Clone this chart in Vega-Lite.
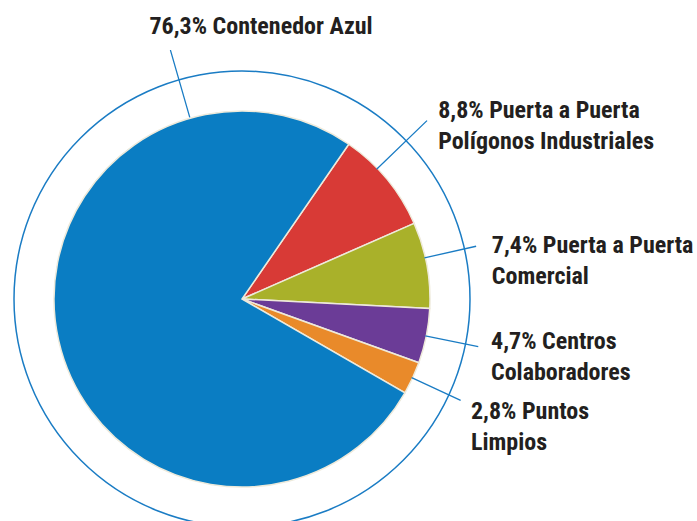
{
  "$schema": "https://vega.github.io/schema/vega-lite/v6.json",
  "width": 484,
  "height": 598,
  "padding": 0,
  "autosize": {"type": "pad"},
  "background": "white",
  "config": {
    "view": {"stroke": null},
    "text": {"font": "Roboto Condensed, DejaVu Sans Condensed, Roboto", "fontWeight": "bold", "fontSize": 24, "lineHeight": 31, "color": "#231f20"}
  },
  "data": {
    "values": [
      {"orden": 1, "categoria": "Puerta a Puerta Polígonos Industriales", "porcentaje": 8.8, "etiqueta": ["8,8% Puerta a Puerta", "Polígonos Industriales"]},
      {"orden": 2, "categoria": "Puerta a Puerta Comercial", "porcentaje": 7.4, "etiqueta": ["7,4% Puerta a Puerta", "Comercial"]},
      {"orden": 3, "categoria": "Centros Colaboradores", "porcentaje": 4.7, "etiqueta": ["4,7% Centros", "Colaboradores"]},
      {"orden": 4, "categoria": "Puntos Limpios", "porcentaje": 2.8, "etiqueta": ["2,8% Puntos", "Limpios"]},
      {"orden": 5, "categoria": "Contenedor Azul", "porcentaje": 76.3, "etiqueta": "76,3% Contenedor Azul"}
    ]
  },
  "resolve": {"scale": {"theta": "independent"}},
  "layer": [
    {
      "data": {"values": [{"anillo": "exterior"}]},
      "mark": {"type": "arc", "theta": 0, "theta2": 6.2832, "outerRadius": 228, "innerRadius": 0, "filled": false, "stroke": "#1a7cc4", "strokeWidth": 1.5},
      "encoding": {}
    },
    {
      "mark": {"type": "arc", "outerRadius": 188, "stroke": "#eeeadb", "strokeWidth": 1.5},
      "encoding": {
        "theta": {"field": "porcentaje", "type": "quantitative", "stack": true, "scale": {"domain": [0, 100], "range": [0.6039, 6.8871]}},
        "order": {"field": "orden", "type": "quantitative"},
        "color": {
          "field": "categoria", "type": "nominal", "legend": null,
          "scale": {
            "domain": ["Puerta a Puerta Polígonos Industriales", "Puerta a Puerta Comercial", "Centros Colaboradores", "Puntos Limpios", "Contenedor Azul"],
            "range": ["#d83a36", "#a9b12a", "#6b3c97", "#e98a2a", "#0a7dc3"]
          }
        }
      }
    },
    {
      "transform": [{"filter": "datum.orden < 5"}],
      "mark": {"type": "arc", "innerRadius": 187, "outerRadius": 241, "padAngle": 3, "filled": false, "stroke": "#1a7cc4", "strokeWidth": 1.3},
      "encoding": {
        "theta": {"field": "porcentaje", "type": "quantitative", "stack": true, "scale": {"domain": [0, 100], "range": [0.6039, 6.8871]}},
        "order": {"field": "orden", "type": "quantitative"},
        "strokeOpacity": {"condition": {"test": "datum.orden == 3 || datum.orden == 4", "value": 1}, "value": 0}
      }
    },
    {
      "transform": [{"filter": "datum.orden < 5"}],
      "mark": {"type": "arc", "innerRadius": 187, "outerRadius": 240, "padAngle": 3, "filled": false, "stroke": "#1a7cc4", "strokeWidth": 1.3},
      "encoding": {
        "theta": {"field": "porcentaje", "type": "quantitative", "stack": true, "scale": {"domain": [0, 100], "range": [0.5638, 6.847]}},
        "order": {"field": "orden", "type": "quantitative"},
        "strokeOpacity": {"condition": {"test": "datum.orden == 2", "value": 1}, "value": 0}
      }
    },
    {
      "transform": [{"filter": "datum.orden < 5"}],
      "mark": {"type": "arc", "innerRadius": 187, "outerRadius": 257, "padAngle": 3, "filled": false, "stroke": "#1a7cc4", "strokeWidth": 1.3},
      "encoding": {
        "theta": {"field": "porcentaje", "type": "quantitative", "stack": true, "scale": {"domain": [0, 100], "range": [0.5271, 6.8103]}},
        "order": {"field": "orden", "type": "quantitative"},
        "strokeOpacity": {"condition": {"test": "datum.orden == 1", "value": 1}, "value": 0}
      }
    },
    {
      "transform": [{"filter": "datum.orden == 5"}],
      "mark": {"type": "arc", "theta": -0.28, "theta2": -0.28, "innerRadius": 189, "outerRadius": 259, "filled": false, "stroke": "#1a7cc4", "strokeWidth": 1.3},
      "encoding": {}
    },
    {
      "transform": [{"filter": "datum.orden < 5"}],
      "mark": {"type": "text", "align": "left", "baseline": "alphabetic", "radius": 267},
      "encoding": {
        "theta": {"field": "porcentaje", "type": "quantitative", "stack": true, "scale": {"domain": [0, 100], "range": [0.5487, 6.8319]}},
        "order": {"field": "orden", "type": "quantitative"},
        "text": {"condition": {"test": "datum.orden == 1", "field": "etiqueta"}, "value": ""}
      }
    },
    {
      "transform": [{"filter": "datum.orden < 5"}],
      "mark": {"type": "text", "align": "left", "baseline": "alphabetic", "radius": 254},
      "encoding": {
        "theta": {"field": "porcentaje", "type": "quantitative", "stack": true, "scale": {"domain": [0, 100], "range": [0.6039, 6.8871]}},
        "order": {"field": "orden", "type": "quantitative"},
        "text": {"condition": {"test": "datum.orden == 2 || datum.orden == 3", "field": "etiqueta"}, "value": ""}
      }
    },
    {
      "transform": [{"filter": "datum.orden < 5"}],
      "mark": {"type": "text", "align": "left", "baseline": "alphabetic", "radius": 258.5},
      "encoding": {
        "theta": {"field": "porcentaje", "type": "quantitative", "stack": true, "scale": {"domain": [0, 100], "range": [0.6522, 6.9354]}},
        "order": {"field": "orden", "type": "quantitative"},
        "text": {"condition": {"test": "datum.orden == 4", "field": "etiqueta"}, "value": ""}
      }
    },
    {
      "transform": [{"filter": "datum.orden == 5"}],
      "mark": {"type": "text", "align": "center", "baseline": "alphabetic", "theta": 0.0716, "radius": 266},
      "encoding": {"text": {"field": "etiqueta"}}
    }
  ]
}
